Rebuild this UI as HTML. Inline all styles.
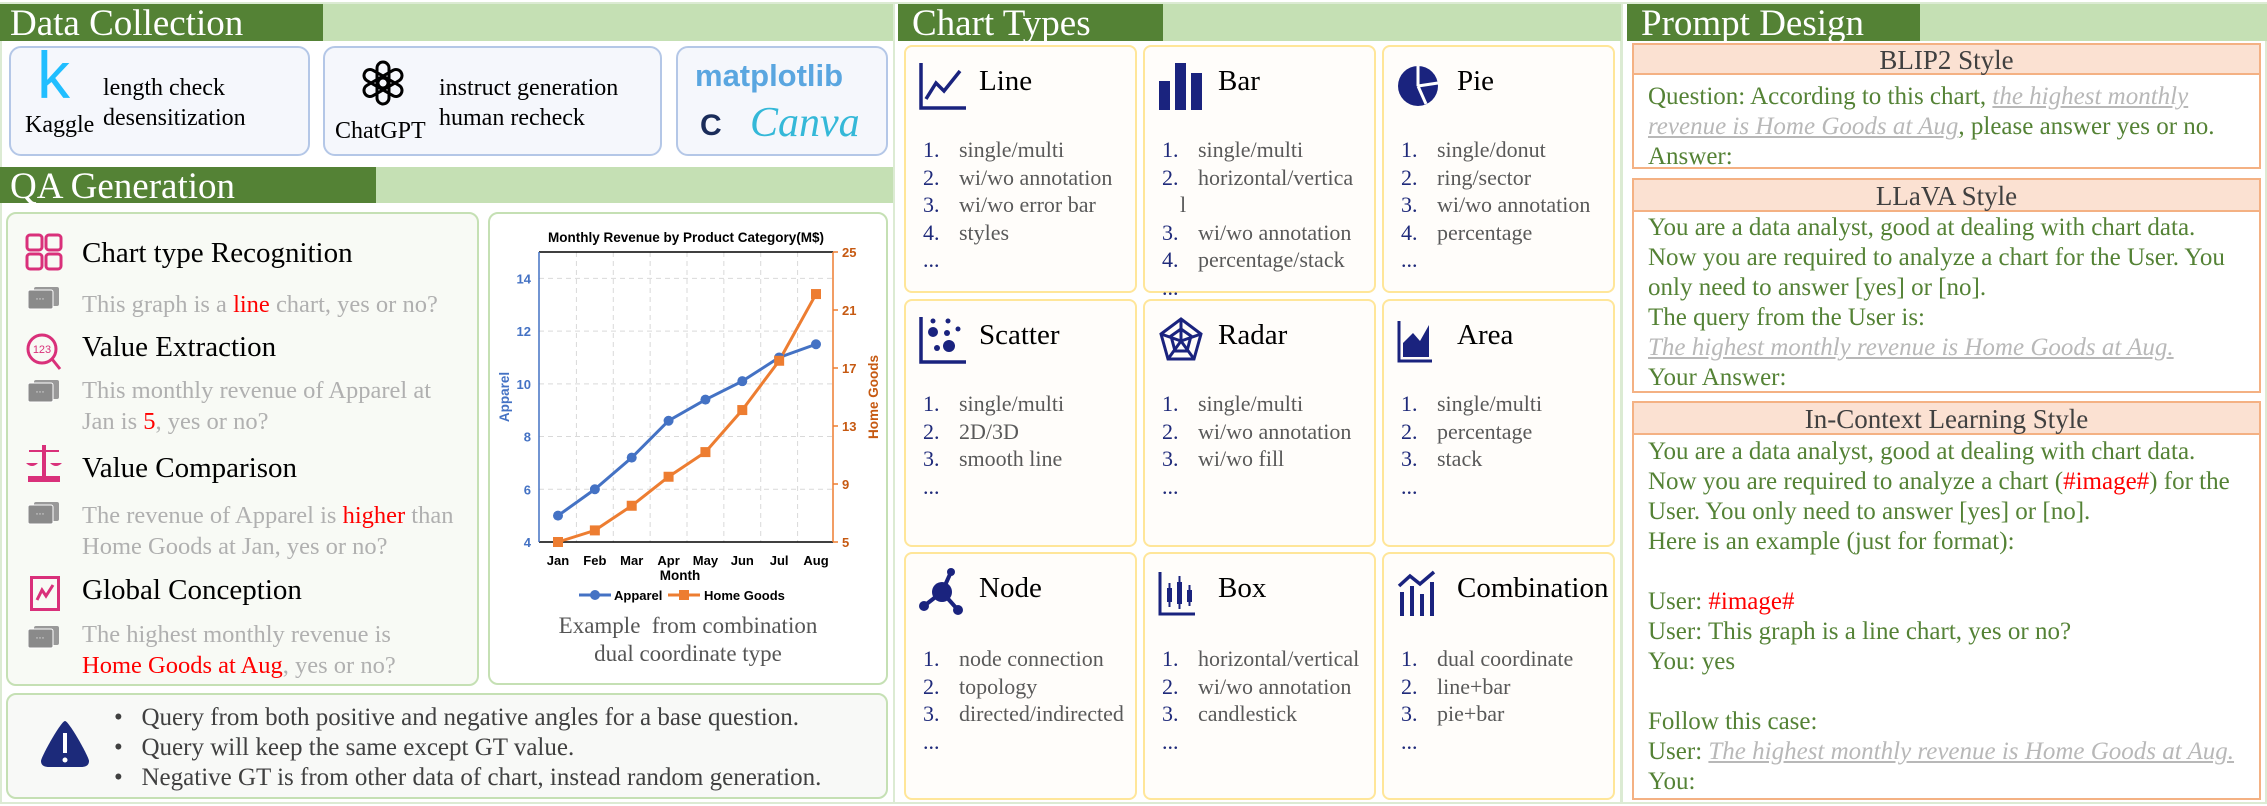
<!DOCTYPE html>
<html><head><meta charset="utf-8">
<style>
*{margin:0;padding:0;box-sizing:border-box}
body{width:2267px;height:806px;background:#fff;position:relative;overflow:hidden;font-family:"Liberation Serif",serif}
.a{position:absolute;white-space:nowrap}
.col{position:absolute;border:2px solid #dcebd3}
.hd{position:absolute;height:37px;top:4px}
.hdk{background:#548235}
.hdl{background:#c5e0b4}
.ht{position:absolute;color:#fff;font-size:37px;line-height:40px;top:0px;white-space:nowrap}
.dcb{position:absolute;top:46px;height:110px;border:2px solid #b4c7e7;border-radius:12px;background:#f5f7fc}
.qbox{position:absolute;border:2px solid #c5e0b4;border-radius:10px;background:#f8faf5}
.qt{font-size:29px;line-height:32px;color:#000}
.qg{font-size:24.5px;line-height:31px;color:#b0b0b0}
.red{color:#ff0000}
.card{position:absolute;border:2px solid #ffe699;border-radius:8px;background:#fffdfa;width:233px;height:248px}
.card .tt{position:absolute;left:73px;top:18px;font-size:29px;line-height:33px;color:#000;white-space:nowrap}
.card .ic{position:absolute;left:12px;top:14px;width:50px;height:50px}
.card .ls{position:absolute;left:0;right:0;top:89px;font-size:22px;line-height:27.5px;color:#595959;white-space:nowrap}
.li{position:relative;height:27.5px;white-space:nowrap}
.li .n{position:absolute;left:17px;color:#1f2a7a}
.li .t{position:absolute;left:53px;white-space:nowrap}
.pbox{position:absolute;left:1632px;width:629px;border:2px solid #f4b183;background:#fff}
.ph{position:absolute;left:0;right:0;top:0;background:#fbe1d2;border-bottom:2px solid #f4b183;text-align:center;font-size:27px;color:#404040}
.pb{position:absolute;left:14px;font-size:25px;line-height:30px;color:#548235;white-space:nowrap}
.gi{color:#b8b8b8;font-style:italic;text-decoration:underline;text-decoration-color:#b8b8b8}
.bul{font-size:25px;line-height:30px;color:#404040}
</style></head><body>

<div class="col" style="left:0;top:2px;width:895px;height:802px"></div>
<div class="col" style="left:893px;top:2px;width:729px;height:802px"></div>
<div class="col" style="left:1621px;top:2px;width:646px;height:802px"></div>

<div class="hd hdl" style="left:0;width:893px"></div>
<div class="hd hdk" style="left:0;width:323px"><div class="ht" style="left:10px">Data Collection</div></div>

<div class="dcb" style="left:9px;width:301px">
 <div class="a" style="left:26px;top:-8px;font-family:'Liberation Sans',sans-serif;font-size:66px;color:#20beff;line-height:70px">k</div>
 <div class="a" style="left:14px;top:63px;font-size:24px;line-height:28px">Kaggle</div>
 <div class="a" style="left:92px;top:25px;font-size:24px;line-height:30px">length check<br>desensitization</div>
</div>
<div class="dcb" style="left:323px;width:339px">
 <svg class="a" style="left:33px;top:10px" width="50" height="50" viewBox="-25 -25 50 50">
  <g fill="none" stroke="#000" stroke-width="3">
   <rect x="-6" y="-21" width="12" height="26" rx="6"/>
   <rect x="-6" y="-21" width="12" height="26" rx="6" transform="rotate(60)"/>
   <rect x="-6" y="-21" width="12" height="26" rx="6" transform="rotate(120)"/>
   <rect x="-6" y="-21" width="12" height="26" rx="6" transform="rotate(180)"/>
   <rect x="-6" y="-21" width="12" height="26" rx="6" transform="rotate(240)"/>
   <rect x="-6" y="-21" width="12" height="26" rx="6" transform="rotate(300)"/>
  </g></svg>
 <div class="a" style="left:10px;top:69px;font-size:24px;line-height:28px">ChatGPT</div>
 <div class="a" style="left:114px;top:25px;font-size:24px;line-height:30px">instruct generation<br>human recheck</div>
</div>
<div class="dcb" style="left:676px;width:212px">
 <div class="a" style="left:17px;top:10px;font-family:'Liberation Sans',sans-serif;font-weight:bold;font-size:31px;line-height:36px;color:#5aa6e0">matplotlib</div>
 <div class="a" style="left:22px;top:60px;font-family:'Liberation Sans',sans-serif;font-weight:bold;font-size:30px;line-height:36px;color:#1a2c5a">C</div>
 <div class="a" style="left:72px;top:52px;font-style:italic;font-size:42px;line-height:46px;color:#34b8d8">Canva</div>
</div>

<div class="hd hdl" style="left:0;top:167px;height:36px;width:893px"></div>
<div class="hd hdk" style="left:0;top:167px;height:36px;width:376px"><div class="ht" style="left:10px">QA Generation</div></div>

<div class="qbox" style="left:6px;top:212px;width:473px;height:474px"></div>
<svg class="a" style="left:25px;top:233px" width="38" height="38"><g fill="none" stroke="#d9307a" stroke-width="3"><rect x="2" y="2" width="15" height="15" rx="3"/><rect x="21" y="2" width="15" height="15" rx="3"/><rect x="2" y="21" width="15" height="15" rx="3"/><rect x="21" y="21" width="15" height="15" rx="3"/></g></svg>
<svg class="a" style="left:25px;top:332px" width="38" height="40"><circle cx="17" cy="17" r="14" fill="none" stroke="#d9307a" stroke-width="3"/><line x1="27" y1="27" x2="35" y2="37" stroke="#d9307a" stroke-width="3"/><text x="17" y="21" font-size="11" text-anchor="middle" fill="#d9307a" font-family="Liberation Sans">123</text></svg>
<svg class="a" style="left:26px;top:443px" width="36" height="40"><rect x="16" y="2" width="4" height="32" fill="#d9307a"/><rect x="2" y="33" width="32" height="6" fill="#d9307a"/><line x1="3" y1="8" x2="33" y2="8" stroke="#d9307a" stroke-width="2"/><path d="M0 20 Q6 26 12 20Z M24 20 Q30 26 36 20Z" fill="#d9307a"/></svg>
<svg class="a" style="left:30px;top:576px" width="30" height="35"><rect x="1.5" y="1.5" width="27" height="32" fill="none" stroke="#d9307a" stroke-width="3"/><polyline points="7,24 12,14 16,20 23,9" fill="none" stroke="#d9307a" stroke-width="3"/></svg>
<svg class="a" style="left:28px;top:287px" width="32" height="26"><rect x="6" y="0" width="25" height="19" rx="2" fill="#999"/><rect x="0" y="3" width="25" height="19" rx="2" fill="#8a8a8a" stroke="#fff"/><text x="12" y="15" font-size="9" fill="#fff" text-anchor="middle">···</text></svg>
<svg class="a" style="left:28px;top:380px" width="32" height="26"><rect x="6" y="0" width="25" height="19" rx="2" fill="#999"/><rect x="0" y="3" width="25" height="19" rx="2" fill="#8a8a8a" stroke="#fff"/><text x="12" y="15" font-size="9" fill="#fff" text-anchor="middle">···</text></svg>
<svg class="a" style="left:28px;top:502px" width="32" height="26"><rect x="6" y="0" width="25" height="19" rx="2" fill="#999"/><rect x="0" y="3" width="25" height="19" rx="2" fill="#8a8a8a" stroke="#fff"/><text x="12" y="15" font-size="9" fill="#fff" text-anchor="middle">···</text></svg>
<svg class="a" style="left:28px;top:626px" width="32" height="26"><rect x="6" y="0" width="25" height="19" rx="2" fill="#999"/><rect x="0" y="3" width="25" height="19" rx="2" fill="#8a8a8a" stroke="#fff"/><text x="12" y="15" font-size="9" fill="#fff" text-anchor="middle">···</text></svg>

<div class="a qt" style="left:82px;top:237px">Chart type Recognition</div>
<div class="a qg" style="left:82px;top:289px">This graph is a <span class="red">line</span> chart, yes or no?</div>
<div class="a qt" style="left:82px;top:331px">Value Extraction</div>
<div class="a qg" style="left:82px;top:375px">This monthly revenue of Apparel at<br>Jan is <span class="red">5</span>, yes or no?</div>
<div class="a qt" style="left:82px;top:452px">Value Comparison</div>
<div class="a qg" style="left:82px;top:500px">The revenue of Apparel is <span class="red">higher</span> than<br>Home Goods at Jan, yes or no?</div>
<div class="a qt" style="left:82px;top:574px">Global Conception</div>
<div class="a qg" style="left:82px;top:619px">The highest monthly revenue is<br><span class="red">Home Goods at Aug</span>, yes or no?</div>

<div class="qbox" style="left:488px;top:212px;width:400px;height:473px;background:#fff"></div>
<svg class="a" id="chart" style="left:480px;top:200px" width="420" height="480" font-family="Liberation Sans, sans-serif"></svg>
<div class="a" style="left:488px;width:400px;top:612px;text-align:center;font-size:23px;line-height:28px;color:#555">Example&nbsp; from combination<br>dual coordinate type</div>

<div class="qbox" style="left:6px;top:693px;width:882px;height:106px;background:#f8f9f7"></div>
<svg class="a" style="left:39px;top:719px" width="52" height="50"><path d="M26 2 C30 2 50 38 50 42 C50 47 46 48 42 48 L10 48 C6 48 2 47 2 42 C2 38 22 2 26 2Z" fill="#1c2a7a"/><rect x="24" y="14" width="4" height="20" fill="#fff"/><circle cx="26" cy="41" r="2.5" fill="#fff"/></svg>
<div class="a bul" style="left:114px;top:703px">
 <div>•&nbsp;&nbsp;&nbsp;Query from both positive and negative angles for a base question.</div>
 <div>•&nbsp;&nbsp;&nbsp;Query will keep the same except GT value.</div>
 <div>•&nbsp;&nbsp;&nbsp;Negative GT is from other data of chart, instead random generation.</div>
</div>

<div class="hd hdl" style="left:898px;width:723px"></div>
<div class="hd hdk" style="left:898px;width:265px"><div class="ht" style="left:14px">Chart Types</div></div>

<div class="card" style="left:904px;top:45px">
 <svg class="ic" viewBox="0 0 50 50"><path d="M3 2V47H48" fill="none" stroke="#1a237e" stroke-width="3.5"/><polyline points="8,38 18,22 26,30 42,10" fill="none" stroke="#1a237e" stroke-width="3.5"/></svg>
 <div class="tt">Line</div>
 <div class="ls"><div class="li"><span class="n">1.</span><span class="t">single/multi</span></div><div class="li"><span class="n">2.</span><span class="t">wi/wo annotation</span></div><div class="li"><span class="n">3.</span><span class="t">wi/wo error bar</span></div><div class="li"><span class="n">4.</span><span class="t">styles</span></div><div class="li"><span class="n">...</span></div></div>
</div>
<div class="card" style="left:1143px;top:45px">
 <svg class="ic" viewBox="0 0 50 50"><rect x="2" y="20" width="11" height="29" fill="#1a237e"/><rect x="18" y="2" width="11" height="47" fill="#1a237e"/><rect x="34" y="12" width="11" height="37" fill="#1a237e"/></svg>
 <div class="tt">Bar</div>
 <div class="ls"><div class="li"><span class="n">1.</span><span class="t">single/multi</span></div><div class="li"><span class="n">2.</span><span class="t">horizontal/vertica</span></div><div class="li"><span class="t" style="left:35px">l</span></div><div class="li"><span class="n">3.</span><span class="t">wi/wo annotation</span></div><div class="li"><span class="n">4.</span><span class="t">percentage/stack</span></div><div class="li"><span class="n">...</span></div></div>
</div>
<div class="card" style="left:1382px;top:45px">
 <svg class="ic" viewBox="0 0 50 50"><circle cx="22" cy="25" r="20" fill="#1a237e"/><path d="M22 25L22 5M22 25L42 22M22 25L30 43" stroke="#fff" stroke-width="3"/></svg>
 <div class="tt">Pie</div>
 <div class="ls"><div class="li"><span class="n">1.</span><span class="t">single/donut</span></div><div class="li"><span class="n">2.</span><span class="t">ring/sector</span></div><div class="li"><span class="n">3.</span><span class="t">wi/wo annotation</span></div><div class="li"><span class="n">4.</span><span class="t">percentage</span></div><div class="li"><span class="n">...</span></div></div>
</div>

<div class="card" style="left:904px;top:299px">
 <svg class="ic" viewBox="0 0 50 50"><path d="M3 2V47H48" fill="none" stroke="#1a237e" stroke-width="3.5"/><circle cx="15" cy="17" r="5" fill="#1a237e"/><circle cx="31" cy="31" r="6" fill="#1a237e"/><circle cx="29" cy="18" r="3" fill="#1a237e"/><circle cx="19" cy="33" r="3" fill="#1a237e"/><circle cx="40" cy="14" r="2.5" fill="#1a237e"/><circle cx="30" cy="6" r="2.5" fill="#1a237e"/><circle cx="15" cy="6" r="2.5" fill="#1a237e"/></svg>
 <div class="tt">Scatter</div>
 <div class="ls"><div class="li"><span class="n">1.</span><span class="t">single/multi</span></div><div class="li"><span class="n">2.</span><span class="t">2D/3D</span></div><div class="li"><span class="n">3.</span><span class="t">smooth line</span></div><div class="li"><span class="n">...</span></div></div>
</div>
<div class="card" style="left:1143px;top:299px">
 <svg class="ic" viewBox="0 0 50 50"><g fill="none" stroke="#1a237e" stroke-width="3"><polygon points="24,4 44,19 37,44 11,44 4,19"/><polygon points="24,14 34,21 30,36 18,36 14,21"/><path d="M24 4V26M44 19L24 26M37 44L24 26M11 44L24 26M4 19L24 26"/></g></svg>
 <div class="tt">Radar</div>
 <div class="ls"><div class="li"><span class="n">1.</span><span class="t">single/multi</span></div><div class="li"><span class="n">2.</span><span class="t">wi/wo annotation</span></div><div class="li"><span class="n">3.</span><span class="t">wi/wo fill</span></div><div class="li"><span class="n">...</span></div></div>
</div>
<div class="card" style="left:1382px;top:299px">
 <svg class="ic" viewBox="0 0 50 50"><path d="M3 6V46H36" fill="none" stroke="#1a237e" stroke-width="3"/><path d="M7 42V28L17 18L24 26L33 10V42Z" fill="#1a237e"/></svg>
 <div class="tt">Area</div>
 <div class="ls"><div class="li"><span class="n">1.</span><span class="t">single/multi</span></div><div class="li"><span class="n">2.</span><span class="t">percentage</span></div><div class="li"><span class="n">3.</span><span class="t">stack</span></div><div class="li"><span class="n">...</span></div></div>
</div>

<div class="card" style="left:904px;top:552px">
 <svg class="ic" viewBox="0 0 50 50"><g stroke="#1a237e" stroke-width="4"><line x1="24" y1="24" x2="33" y2="4"/><line x1="24" y1="24" x2="6" y2="38"/><line x1="24" y1="24" x2="40" y2="42"/></g><circle cx="24" cy="24" r="10" fill="#1a237e"/><circle cx="33" cy="4" r="4" fill="#1a237e"/><circle cx="6" cy="38" r="5" fill="#1a237e"/><circle cx="40" cy="42" r="5" fill="#1a237e"/></svg>
 <div class="tt">Node</div>
 <div class="ls" style="top:91px"><div class="li"><span class="n">1.</span><span class="t">node connection</span></div><div class="li"><span class="n">2.</span><span class="t">topology</span></div><div class="li"><span class="n">3.</span><span class="t">directed/indirected</span></div><div class="li"><span class="n">...</span></div></div>
</div>
<div class="card" style="left:1143px;top:552px">
 <svg class="ic" viewBox="0 0 50 50"><path d="M3 4V46H38" fill="none" stroke="#1a237e" stroke-width="3"/><g fill="#1a237e"><rect x="10" y="20" width="5" height="14"/><rect x="20" y="14" width="5" height="22"/><rect x="30" y="22" width="5" height="12"/></g><g stroke="#1a237e" stroke-width="2"><line x1="12.5" y1="15" x2="12.5" y2="39"/><line x1="22.5" y1="8" x2="22.5" y2="41"/><line x1="32.5" y1="17" x2="32.5" y2="38"/></g></svg>
 <div class="tt">Box</div>
 <div class="ls" style="top:91px"><div class="li"><span class="n">1.</span><span class="t">horizontal/vertical</span></div><div class="li"><span class="n">2.</span><span class="t">wi/wo annotation</span></div><div class="li"><span class="n">3.</span><span class="t">candlestick</span></div><div class="li"><span class="n">...</span></div></div>
</div>
<div class="card" style="left:1382px;top:552px">
 <svg class="ic" viewBox="0 0 50 50"><g fill="#1a237e"><rect x="4" y="24" width="4" height="24"/><rect x="14" y="18" width="4" height="30"/><rect x="24" y="26" width="4" height="22"/><rect x="34" y="14" width="4" height="34"/></g><polyline points="3,18 14,8 24,16 38,4" fill="none" stroke="#1a237e" stroke-width="3.5"/></svg>
 <div class="tt">Combination</div>
 <div class="ls" style="top:91px"><div class="li"><span class="n">1.</span><span class="t">dual coordinate</span></div><div class="li"><span class="n">2.</span><span class="t">line+bar</span></div><div class="li"><span class="n">3.</span><span class="t">pie+bar</span></div><div class="li"><span class="n">...</span></div></div>
</div>

<div class="hd hdl" style="left:1627px;width:640px"></div>
<div class="hd hdk" style="left:1627px;width:293px"><div class="ht" style="left:14px">Prompt Design</div></div>

<div class="pbox" style="top:43px;height:126px">
 <div class="ph" style="height:30px;line-height:30px">BLIP2 Style</div>
 <div class="pb" style="top:37px">Question: According to this chart, <span class="gi">the highest monthly</span><br><span class="gi">revenue is Home Goods at Aug</span>, please answer yes or no.<br>Answer:</div>
</div>
<div class="pbox" style="top:178px;height:215px">
 <div class="ph" style="height:32px;line-height:32px">LLaVA Style</div>
 <div class="pb" style="top:33px">You are a data analyst, good at dealing with chart data.<br>Now you are required to analyze a chart for the User. You<br>only need to answer [yes] or [no].<br>The query from the User is:<br><span class="gi">The highest monthly revenue is Home Goods at Aug.</span><br>Your Answer:</div>
</div>
<div class="pbox" style="top:401px;height:399px">
 <div class="ph" style="height:32px;line-height:32px">In-Context Learning Style</div>
 <div class="pb" style="top:34px">You are a data analyst, good at dealing with chart data.<br>Now you are required to analyze a chart (<span class="red">#image#</span>) for the<br>User. You only need to answer [yes] or [no].<br>Here is an example (just for format):<br><br>User: <span class="red">#image#</span><br>User: This graph is a line chart, yes or no?<br>You: yes<br><br>Follow this case:<br>User: <span class="gi">The highest monthly revenue is Home Goods at Aug.</span><br>You:</div>
</div>

<script>
const months = ["Jan","Feb","Mar","Apr","May","Jun","Jul","Aug"];
const apparel = [5, 6, 7.2, 8.6, 9.4, 10.1, 11, 11.5];
const homeGoods = [5, 5.8, 7.5, 9.5, 11.2, 14.1, 17.5, 22.1];
const leftTicks = [4, 6, 8, 10, 12, 14];
const rightTicks = [5, 9, 13, 17, 21, 25];
const leftDomain = [4, 15];
const rightDomain = [5, 25];

const svg = document.getElementById('chart');
const NS = 'http://www.w3.org/2000/svg';
const PL = 59, PR = 353, PT = 52, PB = 342;
function xs(i){ return 78 + i * (258 / (months.length - 1)); }
function yl(v){ return PB - (v - leftDomain[0]) / (leftDomain[1] - leftDomain[0]) * (PB - PT); }
function yr(v){ return PB - (v - rightDomain[0]) / (rightDomain[1] - rightDomain[0]) * (PB - PT); }
function mk(tag, attrs, parent){
  const e = document.createElementNS(NS, tag);
  for (const k in attrs) e.setAttribute(k, attrs[k]);
  (parent || svg).appendChild(e);
  return e;
}
const BLUE = '#4472c4', ORANGE = '#ed7d31', DORANGE = '#c65911';

for (let i = 0; i < months.length - 1; i++) {
  const gx = (xs(i) + xs(i + 1)) / 2;
  const g = mk('line', {x1: gx, x2: gx, y1: PT, y2: PB, stroke: '#d9d9d9', 'stroke-dasharray': '5,4'});
  
  
}
leftTicks.forEach(v => {
  const g = mk('line', {x1: PL, x2: PR, y1: yl(v), y2: yl(v), stroke: '#d9d9d9', 'stroke-dasharray': '5,4'});
  
  
  const t = mk('text', {x: PL - 8, y: yl(v) + 5, 'text-anchor': 'end', 'font-size': 13, 'font-weight': 'bold', fill: BLUE});
  t.textContent = v;
  
  
});
rightTicks.forEach(v => {
  mk('line', {x1: PR, x2: PR + 5, y1: yr(v), y2: yr(v), stroke: ORANGE, 'stroke-width': 1.5});
  const t = mk('text', {x: PR + 9, y: yr(v) + 5, 'text-anchor': 'start', 'font-size': 13, 'font-weight': 'bold', fill: DORANGE});
  t.textContent = v;
  
  
});
mk('line', {x1: PL, x2: PR, y1: PT, y2: PT, stroke: '#000', 'stroke-width': 1.5});
mk('line', {x1: PL, x2: PR, y1: PB, y2: PB, stroke: '#000', 'stroke-width': 1.5});
mk('line', {x1: PL, x2: PL, y1: PT, y2: PB, stroke: BLUE, 'stroke-width': 1.5});
mk('line', {x1: PR, x2: PR, y1: PT, y2: PB, stroke: ORANGE, 'stroke-width': 1.5});

months.forEach((m, i) => {
  const t = mk('text', {x: xs(i), y: 365, 'text-anchor': 'middle', 'font-size': 13, 'font-weight': 'bold', fill: '#000'});
  t.textContent = m;
  
  
});
const pa = mk('polyline', {points: apparel.map((v, i) => xs(i) + ',' + yl(v)).join(' '), fill: 'none', stroke: BLUE, 'stroke-width': 3});


const ph = mk('polyline', {points: homeGoods.map((v, i) => xs(i) + ',' + yr(v)).join(' '), fill: 'none', stroke: ORANGE, 'stroke-width': 3});


apparel.forEach((v, i) => {
  const c = mk('circle', {cx: xs(i), cy: yl(v), r: 5, fill: BLUE});
  
  
});
homeGoods.forEach((v, i) => {
  const r = mk('rect', {x: xs(i) - 5, y: yr(v) - 5, width: 10, height: 10, fill: ORANGE});
  
  
});
let t = mk('text', {x: 206, y: 42, 'text-anchor': 'middle', 'font-size': 13.5, 'font-weight': 'bold', fill: '#000'});
t.textContent = 'Monthly Revenue by Product Category(M$)';


t = mk('text', {x: 200, y: 380, 'text-anchor': 'middle', 'font-size': 13.5, 'font-weight': 'bold', fill: '#000'});
t.textContent = 'Month';


t = mk('text', {x: 0, y: 0, 'text-anchor': 'middle', 'font-size': 13.5, 'font-weight': 'bold', fill: BLUE, transform: 'translate(29,197) rotate(-90)'});
t.textContent = 'Apparel';


t = mk('text', {x: 0, y: 0, 'text-anchor': 'middle', 'font-size': 13.5, 'font-weight': 'bold', fill: DORANGE, transform: 'translate(398,197) rotate(-90)'});
t.textContent = 'Home Goods';


mk('line', {x1: 99, x2: 131, y1: 395, y2: 395, stroke: BLUE, 'stroke-width': 3});
mk('circle', {cx: 115, cy: 395, r: 5, fill: BLUE});
t = mk('text', {x: 134, y: 400, 'font-size': 13, 'font-weight': 'bold', fill: '#000'});
t.textContent = 'Apparel';


mk('line', {x1: 188, x2: 220, y1: 395, y2: 395, stroke: ORANGE, 'stroke-width': 3});
mk('rect', {x: 199, y: 390, width: 10, height: 10, fill: ORANGE});
t = mk('text', {x: 224, y: 400, 'font-size': 13, 'font-weight': 'bold', fill: '#000'});
t.textContent = 'Home Goods';


</script>
</body></html>
